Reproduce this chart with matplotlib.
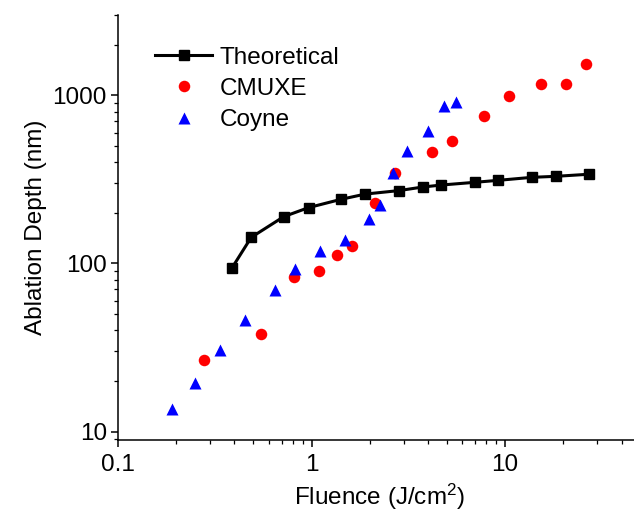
import matplotlib
matplotlib.use("Agg")
import matplotlib.pyplot as plt
from matplotlib.ticker import LogLocator, NullFormatter, FixedLocator, FixedFormatter

plt.rcParams['font.family'] = ['Liberation Sans', 'DejaVu Sans']
plt.rcParams['mathtext.fontset'] = 'custom'
plt.rcParams['mathtext.rm'] = 'Liberation Sans'
plt.rcParams['mathtext.it'] = 'Liberation Sans:italic'

theo_x = [0.389, 0.488, 0.719, 0.965, 1.42, 1.90, 2.83, 3.75, 4.68, 6.98, 9.25, 13.8, 18.4, 27.1]
theo_y = [94.3, 142.8, 189.7, 214.6, 240.4, 258.5, 271, 284.5, 292.4, 303.5, 312, 325, 329.6, 339]

cmuxe_x = [0.277, 0.548, 0.810, 1.087, 1.352, 1.615, 2.134, 2.685, 4.17, 5.33, 7.81, 10.5, 15.4, 20.6, 26.2]
cmuxe_y = [26.8, 38.0, 82.9, 90.6, 112.7, 126.8, 228.6, 345.9, 458, 534.6, 753, 995, 1161, 1161, 1545]

coyne_x = [0.190, 0.251, 0.336, 0.451, 0.644, 0.817, 1.113, 1.493, 1.99, 2.25, 2.64, 3.10, 4.02, 4.85, 5.57]
coyne_y = [13.6, 19.5, 30.4, 45.8, 69.1, 93, 118.4, 137, 184.6, 223.3, 345.9, 468.8, 613, 860, 908]

x_ticks = [0.1, 1, 10]
x_tick_labels = ['0.1', '1', '10']
y_ticks = [10, 100, 1000]
y_tick_labels = ['10', '100', '1000']

fig = plt.figure(figsize=(6.34, 5.12), dpi=100)
ax = fig.add_axes([0.1861, 0.1406, 0.8238, 0.830])

ax.plot(theo_x, theo_y, '-s', color='black', lw=2.2, ms=6.5, label='Theoretical', zorder=3)
ax.plot(cmuxe_x, cmuxe_y, 'o', color='#ff0000', ms=8.3, mec='none', label='CMUXE', zorder=4)
ax.plot(coyne_x, coyne_y, '^', color='#0000ff', ms=9, mec='none', label='Coyne', zorder=5)

ax.set_xscale('log')
ax.set_yscale('log')
ax.set_xlim(0.1, 50)
ax.set_ylim(8.9, 3000)

ax.xaxis.set_major_locator(FixedLocator(x_ticks))
ax.xaxis.set_major_formatter(FixedFormatter(x_tick_labels))
ax.yaxis.set_major_locator(FixedLocator(y_ticks))
ax.yaxis.set_major_formatter(FixedFormatter(y_tick_labels))
ax.xaxis.set_minor_locator(LogLocator(base=10, subs=range(2, 10), numticks=20))
ax.yaxis.set_minor_locator(LogLocator(base=10, subs=range(2, 10), numticks=20))
ax.xaxis.set_minor_formatter(NullFormatter())
ax.yaxis.set_minor_formatter(NullFormatter())

for s in ['top', 'right']:
    ax.spines[s].set_visible(False)
for s in ['left', 'bottom']:
    ax.spines[s].set_linewidth(1.1)

ax.tick_params(which='major', direction='out', length=5, width=1.1, labelsize=17.5, pad=3)
ax.tick_params(axis='x', which='major', pad=5)
ax.tick_params(which='minor', direction='out', length=3, width=0.9)

ax.set_xlabel('Fluence (J/cm$^{2}$)', fontsize=17.5, labelpad=4)
ax.set_ylabel('Ablation Depth (nm)', fontsize=17.5, labelpad=4)

leg = ax.legend(loc='upper left', bbox_to_anchor=(0.071, 0.926), frameon=False, fontsize=17.5,
                handlelength=2.35, handletextpad=0.3, labelspacing=0.39, borderaxespad=0,
                borderpad=0)

fig.savefig('out.png', dpi=100)
